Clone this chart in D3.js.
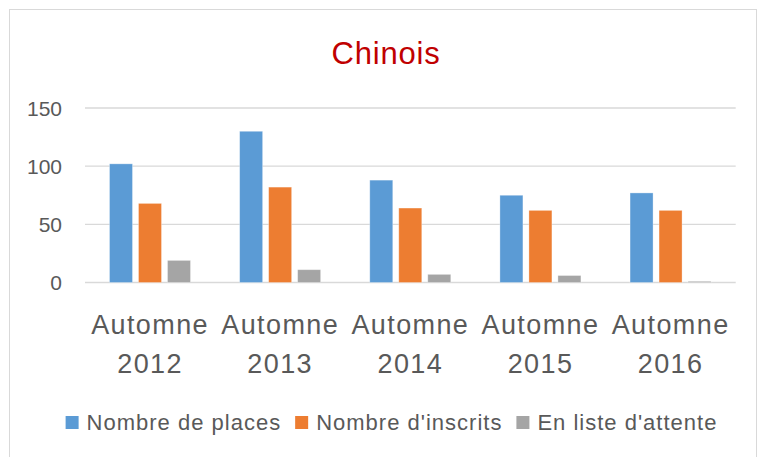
<!DOCTYPE html>
<html>
<head>
<meta charset="utf-8">
<script src="https://cdn.jsdelivr.net/npm/d3@7"></script>
<style>
  body { margin: 0; background: #fff; }
  text { font-family: "Liberation Sans", Arial, sans-serif; fill: #595959; }
</style>
</head>
<body>
<svg width="758" height="457"></svg>
<script>
var svg = d3.select("svg");

// data
var categories = ["Automne 2012", "Automne 2013", "Automne 2014", "Automne 2015", "Automne 2016"];
var seriesNames = ["Nombre de places", "Nombre d'inscrits", "En liste d'attente"];
var places = [102, 130, 88, 75, 77];
var inscrits = [68, 82, 64, 62, 62];
var attente = [19, 11, 7, 6, 1];
var yTicks = [0, 50, 100, 150];
var colors = ["#5B9BD5", "#ED7D31", "#A5A5A5"];

var seriesValues = [places, inscrits, attente];

// chart border
svg.append("rect")
  .attr("x", 9.5).attr("y", 9.5)
  .attr("width", 747).attr("height", 460)
  .attr("fill", "none")
  .attr("stroke", "#D9D9D9");

// title
svg.append("text")
  .attr("x", 386).attr("y", 64)
  .attr("text-anchor", "middle")
  .style("font-size", "31px")
  .style("letter-spacing", "0.8px")
  .style("fill", "#C00000")
  .text("Chinois");

var x = d3.scaleBand().domain(categories).range([85, 735.7]);
var xSub = d3.scaleBand().domain(seriesNames)
  .range([24.5, 105.5]).paddingInner(0.207);
var y = d3.scaleLinear().domain([0, 150]).range([282.5, 108]);

// gridlines
svg.append("g")
  .selectAll("line")
  .data(yTicks)
  .enter().append("line")
  .attr("x1", 85).attr("x2", 735.7)
  .attr("y1", function(d) { return y(d); })
  .attr("y2", function(d) { return y(d); })
  .attr("stroke", "#D9D9D9")
  .attr("stroke-width", 1.3);

// y labels
svg.append("g")
  .selectAll("text")
  .data(yTicks)
  .enter().append("text")
  .attr("x", 62)
  .attr("y", function(d) { return y(d) + 7.5; })
  .attr("text-anchor", "end")
  .style("font-size", "21px")
  .text(function(d) { return d; });

// bars
seriesNames.forEach(function(s, i) {
  svg.append("g")
    .selectAll("rect")
    .data(seriesValues[i])
    .enter().append("rect")
    .attr("x", function(d, j) { return x(categories[j]) + xSub(s); })
    .attr("y", function(d) { return y(d); })
    .attr("width", xSub.bandwidth())
    .attr("height", function(d) { return y(0) - y(d); })
    .attr("fill", colors[i])
    .attr("stroke", "#fff")
    .attr("stroke-opacity", 0.4)
    .attr("stroke-width", 0.8);
});

// x labels (two lines)
var xl = svg.append("g")
  .selectAll("text")
  .data(categories)
  .enter().append("text")
  .attr("text-anchor", "middle")
  .style("font-size", "27px")
  .style("letter-spacing", "1.4px");
xl.append("tspan")
  .attr("x", function(d) { return x(d) + x.bandwidth() / 2; })
  .attr("y", 334)
  .text(function(d) { return d.split(" ")[0]; });
xl.append("tspan")
  .attr("x", function(d) { return x(d) + x.bandwidth() / 2; })
  .attr("y", 373)
  .text(function(d) { return d.split(" ")[1]; });

// legend
var legend = svg.append("g");
var lx = 0;
seriesNames.forEach(function(s, i) {
  var item = legend.append("g").attr("transform", "translate(" + lx + ",0)");
  item.append("rect")
    .attr("x", 0).attr("y", 416)
    .attr("width", 13).attr("height", 13)
    .attr("fill", colors[i]);
  var t = item.append("text")
    .attr("x", 21).attr("y", 430)
    .style("font-size", "22px")
    .style("letter-spacing", "1px")
    .text(s);
  lx += 21 + t.node().getComputedTextLength() + 14;
});
legend.attr("transform", "translate(" + (391.5 - (lx - 14) / 2) + ",0)");
</script>
</body>
</html>
